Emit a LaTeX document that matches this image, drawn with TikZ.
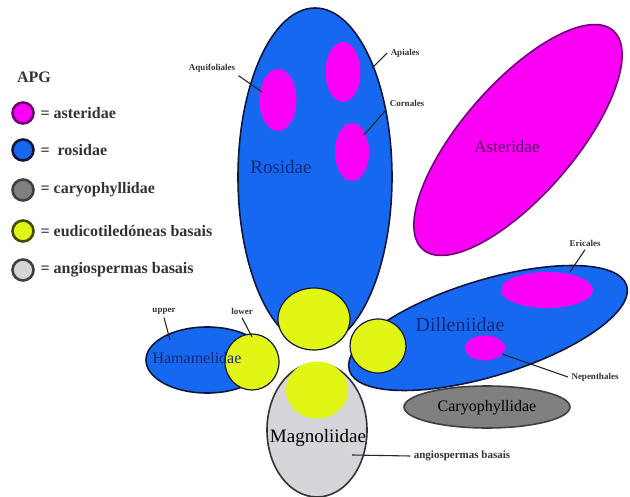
\documentclass[tikz,border=0pt]{standalone}
\usepackage{fontspec}
\setmainfont{Liberation Serif}
\usetikzlibrary{shapes.geometric}
\definecolor{rosBlue}{RGB}{22,104,240}
\definecolor{astMagenta}{RGB}{250,0,245}
\definecolor{eudYellow}{RGB}{226,246,22}
\definecolor{caryGrey}{RGB}{128,128,128}
\definecolor{angioGrey}{RGB}{214,214,218}
\definecolor{lineDark}{RGB}{18,22,60}
\definecolor{astLine}{RGB}{110,0,120}
\definecolor{labelBlue}{RGB}{22,40,120}

\begin{document}
\begin{tikzpicture}[x=1pt, y=-1pt,
    clade/.style={ellipse, draw=lineDark, line width=1.6pt, inner sep=0pt},
    order/.style={ellipse, fill=astMagenta, inner sep=0pt},
    basal/.style={ellipse, fill=eudYellow, draw=lineDark, line width=1.2pt, inner sep=0pt},
    cladename/.style={font=\fontsize{17}{19}\selectfont, text=labelBlue},
    tag/.style={font=\fontsize{9}{10}\selectfont\bfseries, text=black!80},
    lead/.style={draw=black!85, line width=1.1pt},
    key/.style={circle, minimum size=21pt, line width=2.6pt, inner sep=0pt},
    keytxt/.style={font=\fontsize{16}{18}\selectfont\bfseries, text=black!80, anchor=west}
  ]
  \useasboundingbox (0,0) rectangle (630,497);

  % big clades
  \node[clade, fill=astMagenta, draw=astLine, minimum width=290pt, minimum height=112pt, rotate=49] (ast) at (518,140) {};
  \node[clade, fill=rosBlue, minimum width=290pt, minimum height=96pt, rotate=17] (dil) at (488,328) {};
  \node[clade, fill=rosBlue, minimum width=154pt, minimum height=338pt] (ros) at (315,177) {};
  \node[clade, fill=rosBlue, minimum width=122pt, minimum height=66pt] (ham) at (207,360) {};
  \node[clade, fill=angioGrey, draw=black!80, minimum width=100pt, minimum height=134pt] (mag) at (317,430) {};
  \node[clade, fill=caryGrey, draw=black!75, minimum width=166pt, minimum height=42pt] (car) at (487,407) {};

  % orders
  \node[order, minimum width=37pt, minimum height=62pt] (aqu) at (278,100) {};
  \node[order, minimum width=35pt, minimum height=60pt] (api) at (343,72) {};
  \node[order, minimum width=34pt, minimum height=58pt] (cor) at (352,152) {};
  \node[order, minimum width=92pt, minimum height=36pt] (eri) at (547,290) {};
  \node[order, minimum width=40pt, minimum height=25pt] (nep) at (485,348) {};

  % basal eudicots
  \node[basal, minimum width=72pt, minimum height=62pt] (eudR) at (314,319) {};
  \node[basal, minimum width=54pt, minimum height=56pt] (eudH) at (252,362) {};
  \node[basal, minimum width=56pt, minimum height=54pt] (eudD) at (378,346) {};
  \node[basal, draw=none, minimum width=62pt, minimum height=57pt] (eudM) at (317,390) {};

  % clade names
  \node[cladename, font=\fontsize{19}{21}\selectfont] (rosLbl) at (281,167) {Rosidae};
  \node[cladename, text=astLine!80!black] (astLbl) at (507,147) {Asteridae};
  \node[cladename, font=\fontsize{20}{22}\selectfont] (dilLbl) at (460,325) {Dilleniidae};
  \node[cladename, font=\fontsize{16}{18}\selectfont] (hamLbl) at (197,358) {Hamamelidae};
  \node[cladename, text=black, font=\fontsize{19}{21}\selectfont] (magLbl) at (318,438) {Magnoliidae};
  \node[cladename, text=black, font=\fontsize{16}{18}\selectfont] (carLbl) at (487,408) {Caryophyllidae};

  % order tags
  \node[tag] (aquTag) at (212,68) {Aquifoliales};
  \node[tag] (apiTag) at (405,53) {Apiales};
  \node[tag] (corTag) at (407,103) {Cornales};
  \node[tag] (eriTag) at (585,243) {Ericales};
  \node[tag] (nepTag) at (595,377) {Nepenthales};
  \node[tag] (upTag) at (164,311) {upper};
  \node[tag] (lowTag) at (242,311) {lower};
  \node[tag, font=\fontsize{11}{12}\selectfont\bfseries] (angTag) at (462,456) {angiospermas basais};

  \coordinate (aquEnd) at (262,92);
  \coordinate (apiEnd) at (372,68);
  \coordinate (corEnd) at (364,135);
  \coordinate (eriEnd) at (570,272);
  \coordinate (nepEnd) at (502,354);
  \coordinate (upEnd) at (170,340);
  \coordinate (lowEnd) at (252,337);
  \coordinate (angEnd) at (352,455);

  \draw[lead] (aquTag.south east) -- (aquEnd);
  \draw[lead] (apiTag.west) -- (apiEnd);
  \draw[lead] (corTag.south west) -- (corEnd);
  \draw[lead] (eriTag.south) -- (eriEnd);
  \draw[lead] (nepTag.west) -- (nepEnd);
  \draw[lead] (upTag.south) -- (upEnd);
  \draw[lead] (lowTag.south) -- (lowEnd);
  \draw[lead] (angTag.west) -- (angEnd);

  % legend
  \node[font=\fontsize{16}{18}\selectfont\bfseries, text=black!80] (apg) at (34,77) {APG};
  \node[key, fill=astMagenta, draw=astLine] (kAst) at (23,113) {};
  \node[key, fill=rosBlue, draw=lineDark] (kRos) at (23,150) {};
  \node[key, fill=caryGrey, draw=black!75] (kCar) at (23,190) {};
  \node[key, fill=eudYellow, draw=black!70!eudYellow] (kEud) at (23,231) {};
  \node[key, fill=angioGrey, draw=black!75] (kAng) at (23,270) {};
  \node[keytxt] (tAst) at (37,113) {= asteridae};
  \node[keytxt] (tRos) at (37,150) {=\ \ rosidae};
  \node[keytxt] (tCar) at (37,190) {= caryophyllidae};
  \node[keytxt] (tEud) at (37,231) {= eudicotiledóneas basais};
  \node[keytxt] (tAng) at (37,270) {= angiospermas basais};
\end{tikzpicture}
\end{document}
